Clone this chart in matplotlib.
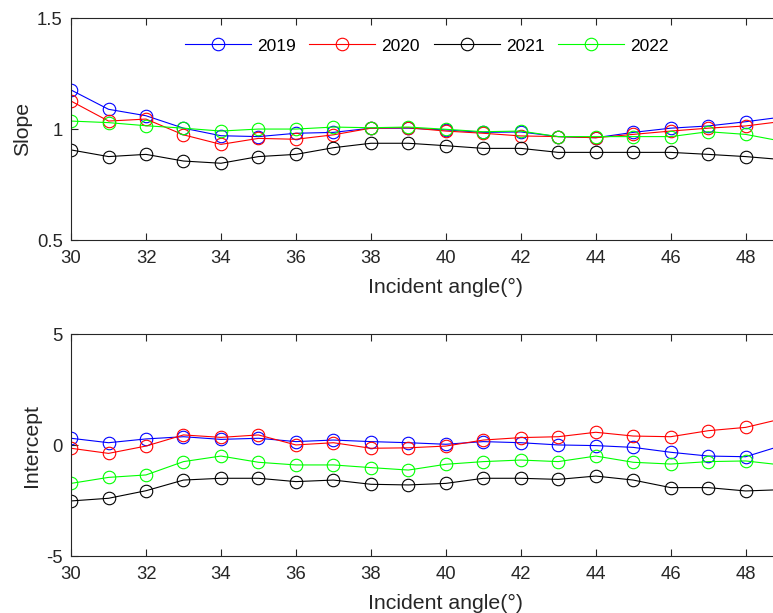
import matplotlib.pyplot as plt
from matplotlib.ticker import FixedLocator

plt.rcParams['font.family'] = ['Liberation Sans', 'DejaVu Sans']

angles = [30, 31, 32, 33, 34, 35, 36, 37, 38, 39,
          40, 41, 42, 43, 44, 45, 46, 47, 48, 49]
years = ['2019', '2020', '2021', '2022']
colors = ['#0000ff', '#ff0000', '#000000', '#00ff00']

# slope per year
slope2019 = [1.177, 1.090, 1.061, 1.005, 0.971, 0.967, 0.982, 0.986, 1.005, 1.005,
             0.997, 0.986, 0.988, 0.967, 0.962, 0.986, 1.005, 1.015, 1.034, 1.056]
slope2020 = [1.127, 1.037, 1.046, 0.975, 0.932, 0.959, 0.955, 0.975, 1.005, 1.007,
             0.992, 0.982, 0.970, 0.967, 0.962, 0.977, 0.992, 1.005, 1.015, 1.036]
slope2021 = [0.907, 0.877, 0.887, 0.857, 0.847, 0.877, 0.887, 0.917, 0.937, 0.937,
             0.926, 0.914, 0.914, 0.896, 0.896, 0.896, 0.896, 0.887, 0.877, 0.863]
slope2022 = [1.037, 1.030, 1.016, 1.005, 0.992, 1.001, 1.001, 1.010, 1.007, 1.010,
             1.000, 0.989, 0.992, 0.967, 0.967, 0.967, 0.967, 0.989, 0.977, 0.945]

# intercept per year
inter2019 = [0.31, 0.11, 0.28, 0.38, 0.26, 0.31, 0.16, 0.23, 0.16, 0.11,
             0.04, 0.16, 0.11, 0.01, -0.02, -0.10, -0.32, -0.49, -0.52, 0.0]
inter2020 = [-0.14, -0.37, -0.04, 0.46, 0.35, 0.46, 0.01, 0.11, -0.14, -0.12,
             -0.04, 0.23, 0.34, 0.38, 0.58, 0.41, 0.38, 0.65, 0.80, 1.20]
inter2021 = [-2.51, -2.39, -2.05, -1.57, -1.49, -1.49, -1.64, -1.57, -1.76, -1.79,
             -1.72, -1.49, -1.49, -1.54, -1.39, -1.57, -1.91, -1.91, -2.06, -2.00]
inter2022 = [-1.72, -1.45, -1.34, -0.74, -0.49, -0.77, -0.89, -0.89, -1.01, -1.12,
             -0.86, -0.74, -0.67, -0.74, -0.49, -0.77, -0.85, -0.74, -0.71, -0.90]

slopes = [slope2019, slope2020, slope2021, slope2022]
inters = [inter2019, inter2020, inter2021, inter2022]

fig = plt.figure(figsize=(7.73, 6.13), dpi=100)
ax1 = fig.add_axes([0.0919, 0.608, 0.9697, 0.3622])
ax2 = fig.add_axes([0.0919, 0.0925, 0.9697, 0.3626])

for ys, c, lab in zip(slopes, colors, years):
    ax1.plot(angles, ys, color=c, lw=0.8, marker='o', ms=9, mfc='none',
             mec=c, mew=0.8, label=lab)
for ys, c in zip(inters, colors):
    ax2.plot(angles, ys, color=c, lw=0.8, marker='o', ms=9, mfc='none',
             mec=c, mew=0.8)

def style(ax, ylim, yticks, ylabels, ylab, ylabpad):
    ax.set_xlim(30, 50)
    ax.set_ylim(*ylim)
    ax.xaxis.set_major_locator(FixedLocator(list(range(30, 49, 2))))
    ax.set_yticks(yticks)
    ax.set_yticklabels(ylabels)
    ax.tick_params(direction='in', length=5, width=0.8, colors='#262626',
                   labelsize=13.3, labelcolor='#262626', top=True, right=True)
    ax.tick_params(axis='x', pad=7)
    ax.tick_params(axis='y', pad=6)
    for s in ax.spines.values():
        s.set_color('#262626')
        s.set_linewidth(0.8)
    ax.set_xlabel('Incident angle(°)', fontsize=15.3, color='#262626', labelpad=8)
    ax.set_ylabel(ylab, fontsize=15.3, color='#262626', labelpad=ylabpad)

style(ax1, (0.5, 1.5), [0.5, 1, 1.5], ['0.5', '1', '1.5'], 'Slope', 3.5)
style(ax2, (-5, 5), [-5, 0, 5], ['-5', '0', '5'], 'Intercept', 3.5)

ax1.legend(loc='center', bbox_to_anchor=(0.552, 0.925), bbox_transform=fig.transFigure,
           ncol=4, frameon=False, fontsize=12.5, handlelength=3.8,
           handletextpad=0.35, columnspacing=0.8, numpoints=1)

fig.savefig('out.png', dpi=100)
